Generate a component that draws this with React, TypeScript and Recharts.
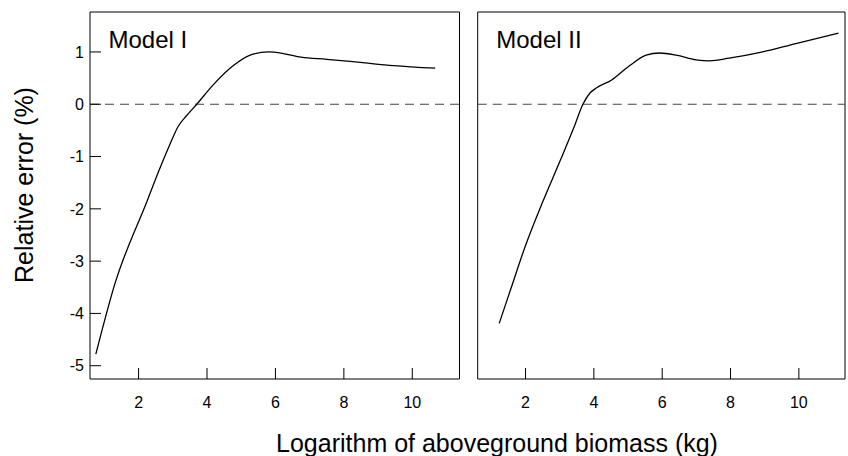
import { LineChart, Line, XAxis, YAxis, ReferenceArea, ReferenceLine, Label } from 'recharts';

// log(aboveground biomass) vs relative error
const modelIX = [0.75, 1.3, 2.25, 2.62, 2.92, 3.16, 3.4, 3.7, 4.18, 4.77, 5.26, 5.79, 6.23, 6.75, 7.5, 8.48, 9.45, 10.67];
const modelIY = [-4.78, -3.45, -1.85, -1.23, -0.76, -0.42, -0.22, 0, 0.37, 0.74, 0.94, 1.0, 0.97, 0.9, 0.86, 0.8, 0.74, 0.69];

const modelIIX = [1.23, 1.6, 2.0, 2.5, 3.0, 3.4, 3.68, 3.88, 4.07, 4.51, 5.05, 5.53, 5.92, 6.41, 6.99, 7.38, 7.96, 8.94, 9.91, 11.16];
const modelIIY = [-4.19, -3.47, -2.7, -1.87, -1.1, -0.47, 0, 0.21, 0.31, 0.46, 0.74, 0.94, 0.98, 0.94, 0.85, 0.83, 0.88, 1.0, 1.16, 1.36];

const xTicks = [2, 4, 6, 8, 10];
const yTicks = [-5, -4, -3, -2, -1, 0, 1];

const leftXDomain = [0.58, 11.38];
const rightXDomain = [0.6, 11.35];
const yDomain = [-5.254, 1.764];

const font = '"Liberation Sans", Arial, Helvetica, sans-serif';

const toRows = (xs: number[], ys: number[]) => xs.map((x, i) => ({ x, y: ys[i] }));

const XTick = (props: any) => (
  <text x={props.x} y={props.y} dy="0.71em" textAnchor="middle" fontSize={16} fill="#000">
    {props.payload.value}
  </text>
);

const YTick = (props: any) => (
  <text x={props.x} y={props.y} dy="0.36em" textAnchor="end" fontSize={16} fill="#000">
    {props.payload.value}
  </text>
);

function Panel({
  title,
  data,
  xDomain,
  showY,
  left,
  width,
  margin,
}: {
  title: string;
  data: { x: number; y: number }[];
  xDomain: number[];
  showY: boolean;
  left: number;
  width: number;
  margin: { top: number; right: number; bottom: number; left: number };
}) {
  return (
    <LineChart
      width={width}
      height={456}
      data={data}
      margin={margin}
      style={{ position: 'absolute', left, top: 0 }}
    >
      <XAxis
        type="number"
        dataKey="x"
        domain={xDomain}
        allowDataOverflow
        ticks={xTicks}
        axisLine={false}
        tickSize={-11}
        tickMargin={28.2}
        tickLine={{ stroke: '#000' }}
        tick={XTick}
        height={40}
      />
      <YAxis
        type="number"
        domain={yDomain}
        allowDataOverflow
        ticks={yTicks}
        hide={!showY}
        axisLine={false}
        tickSize={-11}
        tickMargin={17}
        tickLine={{ stroke: '#000' }}
        tick={YTick}
        width={60}
      />
      <ReferenceArea
        x1={xDomain[0]}
        x2={xDomain[1]}
        y1={yDomain[0]}
        y2={yDomain[1]}
        fill="none"
        stroke="#000"
        strokeWidth={1}
      >
        <Label value={title} position="insideTopLeft" offset={18.5} fontSize={24} fill="#000" />
      </ReferenceArea>
      <ReferenceLine y={0} stroke="#444" strokeWidth={1.2} strokeDasharray="9 6" />
      <Line
        type="monotone"
        dataKey="y"
        stroke="#000"
        strokeWidth={1.3}
        dot={false}
        isAnimationActive={false}
      />
    </LineChart>
  );
}

export default function App() {
  return (
    <div
      style={{
        position: 'absolute',
        left: 0,
        top: 0,
        width: 848,
        height: 456,
        background: '#fff',
        fontFamily: font,
      }}
    >
      <Panel
        title="Model I"
        data={toRows(modelIX, modelIY)}
        xDomain={leftXDomain}
        showY
        left={0}
        width={470}
        margin={{ top: 12, right: 10.5, bottom: 37, left: 30 }}
      />
      <Panel
        title="Model II"
        data={toRows(modelIIX, modelIIY)}
        xDomain={rightXDomain}
        showY={false}
        left={470}
        width={378}
        margin={{ top: 12, right: 3, bottom: 37, left: 7.7 }}
      />
      <svg
        width={848}
        height={456}
        style={{ position: 'absolute', left: 0, top: 0, pointerEvents: 'none' }}
      >
        <text x={497} y={451.7} textAnchor="middle" fontSize={25} fill="#000">
          Logarithm of aboveground biomass (kg)
        </text>
        <text transform="translate(33,185) rotate(-90)" textAnchor="middle" fontSize={25} fill="#000">
          Relative error (%)
        </text>
      </svg>
    </div>
  );
}
